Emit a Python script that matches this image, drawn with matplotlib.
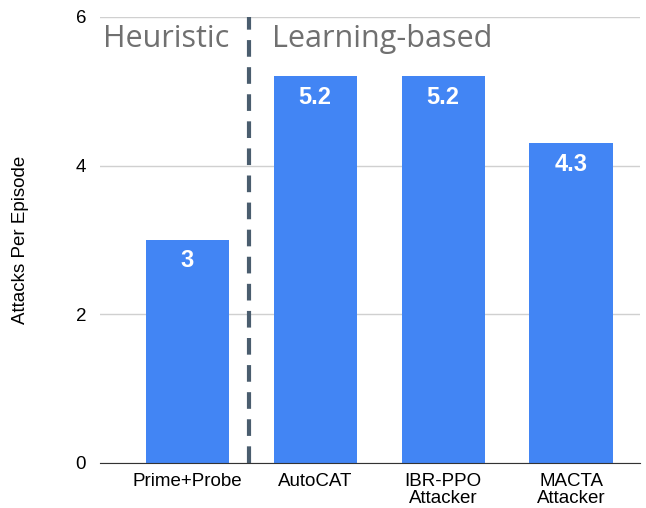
import numpy as np
import matplotlib
matplotlib.use("Agg")
import matplotlib.pyplot as plt

methods = ["Prime+Probe", "AutoCAT", "IBR-PPO\nAttacker", "MACTA\nAttacker"]
attacks = [3, 5.2, 5.2, 4.3]
value_labels = ["3", "5.2", "5.2", "4.3"]

plt.rcParams['font.family'] = ['Liberation Sans', 'DejaVu Sans']

fig = plt.figure(figsize=(6.46, 5.08), dpi=100)
ax = fig.add_axes([0.155, 0.0886, 0.836, 0.878])

x = np.arange(len(methods))
bars = ax.bar(x, attacks, 0.65, color='#4285F4', zorder=3)

for b, lab in zip(bars, value_labels):
    ax.annotate(lab, (b.get_x() + b.get_width() / 2, b.get_height()),
                xytext=(0, -15), textcoords='offset points',
                ha='center', va='center', color='white',
                fontsize=17, fontweight='bold', zorder=4)

# split between heuristic and learned attackers
ax.axvline(0.48, color='#4A5D6E', lw=3, ls=(0, (4, 2.5)), zorder=5)
ax.text(-0.165, 5.7, "Heuristic", ha='center', va='center', fontsize=22,
        color='#707070', family=['Open Sans', 'DejaVu Sans'])
ax.text(0.66, 5.7, "Learning-based", ha='left', va='center', fontsize=22,
        color='#707070', family=['Open Sans', 'DejaVu Sans'])

ax.set_ylim(0, 6)
ax.set_xlim(-0.68, 3.54)
ax.set_yticks([0, 2, 4, 6])
ax.set_xticks(x, methods)
for t in ax.get_xticklabels():
    t.set_linespacing(1.0)
ax.yaxis.grid(True, color='#D0D0D0', lw=1, zorder=0)
ax.tick_params(axis='both', length=0, labelsize=13.5)
ax.tick_params(axis='y', pad=10)
ax.tick_params(axis='x', pad=7)
for s in ['left', 'right', 'top']:
    ax.spines[s].set_visible(False)
ax.spines['bottom'].set_color('#333333')
ax.spines['bottom'].set_zorder(6)
ax.set_ylabel("Attacks Per Episode", fontsize=13.5, labelpad=34)

fig.savefig("out.png", dpi=100)
